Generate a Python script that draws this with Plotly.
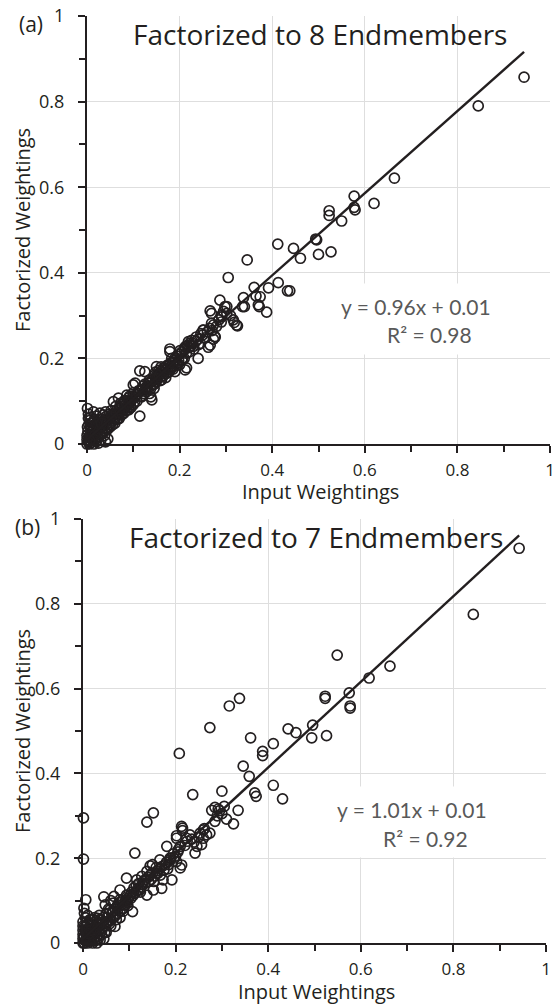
import plotly.graph_objects as go

# ---- data -------------------------------------------------------------
# (a) model factorized to 8 endmembers
a_input = [
    0.944, 0.845, 0.664, 0.577, 0.577, 0.579, 0.620, 0.523, 0.523, 0.550,
    0.496, 0.494, 0.446, 0.461, 0.500, 0.527, 0.438, 0.412, 0.346, 0.305,
    0.413, 0.433, 0.392, 0.361, 0.374, 0.365, 0.338, 0.340, 0.372, 0.388,
    0.287, 0.266, 0.298, 0.302, 0.295, 0.290, 0.310, 0.316, 0.325, 0.269,
    0.251, 0.276, 0.219, 0.228, 0.179,
    0.114, 0.114, 0.125, 0.104, 0.100, 0.140, 0.138, 0.150, 0.179, 0.183,
    0.190, 0.212, 0.215, 0.205, 0.222, 0.212, 0.240, 0.251, 0.266, 0.262,
    0.273, 0.277, 0.273, 0.269, 0.291, 0.302, 0.323, 0.318, 0.336, 0.370,
    0.120, 0.125, 0.130, 0.135, 0.140, 0.145, 0.150, 0.155, 0.160, 0.165,
    0.170, 0.175, 0.180, 0.185, 0.190, 0.195, 0.200, 0.205, 0.210, 0.215,
    0.220, 0.225, 0.230, 0.235, 0.240, 0.245, 0.250, 0.255, 0.260, 0.265,
    0.270, 0.280, 0.285, 0.290,
    0.110, 0.115, 0.118, 0.122, 0.128, 0.132, 0.137, 0.142, 0.148, 0.152,
    0.158, 0.162, 0.167, 0.172, 0.178, 0.183, 0.188, 0.193, 0.198, 0.160,
    0.155, 0.148, 0.145, 0.135, 0.170, 0.200, 0.210,
    0.001, 0.014, 0.028, 0.020, 0.035, 0.057, 0.068, 0.086, 0.090, 0.080,
    0.075, 0.070, 0.065, 0.060, 0.055, 0.050, 0.045, 0.040, 0.035, 0.030,
    0.025, 0.020, 0.015, 0.010, 0.005, 0.000, 0.003, 0.008, 0.012, 0.018,
    0.022, 0.028, 0.032, 0.038, 0.042, 0.048, 0.052, 0.058, 0.062, 0.068,
    0.072, 0.078, 0.082, 0.088, 0.092, 0.095, 0.098, 0.100, 0.105, 0.108,
    0.095, 0.085, 0.075, 0.065, 0.055, 0.045, 0.038, 0.030, 0.025, 0.040,
    0.045, 0.015, 0.005, 0.000, 0.002, 0.004, 0.006, 0.010, 0.012, 0.016,
    0.008, 0.003, 0.000, 0.001, 0.010, 0.020, 0.025, 0.035, 0.050, 0.060,
    0.070, 0.080, 0.090, 0.100, 0.092, 0.082, 0.072, 0.062, 0.052, 0.042,
    0.032, 0.025, 0.018, 0.048, 0.040,
    0.032, 0.036, 0.041, 0.047, 0.053, 0.058, 0.063, 0.067, 0.071, 0.076,
    0.081, 0.085, 0.089, 0.094, 0.099, 0.103, 0.107, 0.112, 0.117, 0.121,
    0.126, 0.131, 0.136, 0.141, 0.146, 0.151, 0.156, 0.161, 0.166, 0.171,
    0.176, 0.181, 0.186, 0.191, 0.196, 0.201, 0.206, 0.211, 0.216, 0.221,
    0.226, 0.231, 0.236, 0.241, 0.246, 0.003, 0.007, 0.011, 0.015, 0.019,
    0.023, 0.027, 0.004, 0.009, 0.013, 0.017, 0.021, 0.026, 0.031, 0.006,
]
a_factorized = [
    0.857, 0.790, 0.621, 0.579, 0.553, 0.547, 0.562, 0.545, 0.534, 0.521,
    0.477, 0.479, 0.457, 0.434, 0.443, 0.449, 0.358, 0.467, 0.430, 0.389,
    0.377, 0.358, 0.365, 0.366, 0.344, 0.346, 0.342, 0.321, 0.321, 0.308,
    0.336, 0.311, 0.321, 0.305, 0.310, 0.300, 0.300, 0.290, 0.276, 0.282,
    0.266, 0.251, 0.239, 0.235, 0.222,
    0.065, 0.171, 0.169, 0.142, 0.138, 0.103, 0.110, 0.181, 0.216, 0.200,
    0.169, 0.173, 0.178, 0.196, 0.235, 0.227, 0.200, 0.266, 0.231, 0.226,
    0.245, 0.250, 0.278, 0.305, 0.297, 0.321, 0.278, 0.284, 0.321, 0.325,
    0.128, 0.140, 0.135, 0.150, 0.145, 0.160, 0.155, 0.165, 0.170, 0.160,
    0.175, 0.185, 0.180, 0.190, 0.195, 0.205, 0.210, 0.215, 0.220, 0.212,
    0.225, 0.230, 0.228, 0.240, 0.245, 0.235, 0.255, 0.248, 0.262, 0.270,
    0.265, 0.275, 0.290, 0.285,
    0.118, 0.125, 0.110, 0.118, 0.122, 0.142, 0.128, 0.138, 0.145, 0.150,
    0.148, 0.158, 0.172, 0.165, 0.170, 0.178, 0.182, 0.188, 0.195, 0.180,
    0.172, 0.168, 0.130, 0.118, 0.155, 0.185, 0.200,
    0.083, 0.075, 0.072, 0.065, 0.068, 0.099, 0.107, 0.114, 0.108, 0.100,
    0.092, 0.085, 0.080, 0.070, 0.065, 0.060, 0.055, 0.050, 0.045, 0.040,
    0.035, 0.030, 0.025, 0.020, 0.015, 0.010, 0.005, 0.003, 0.008, 0.012,
    0.018, 0.022, 0.028, 0.030, 0.038, 0.045, 0.050, 0.055, 0.062, 0.068,
    0.075, 0.080, 0.085, 0.090, 0.095, 0.100, 0.105, 0.092, 0.110, 0.100,
    0.085, 0.078, 0.068, 0.058, 0.045, 0.035, 0.020, 0.010, 0.002, 0.005,
    0.012, 0.000, 0.000, 0.000, 0.030, 0.045, 0.055, 0.040, 0.050, 0.058,
    0.035, 0.060, 0.020, 0.040, 0.012, 0.005, 0.015, 0.025, 0.040, 0.048,
    0.060, 0.072, 0.080, 0.120, 0.112, 0.102, 0.095, 0.088, 0.078, 0.065,
    0.058, 0.050, 0.045, 0.070, 0.075,
    0.050, 0.042, 0.058, 0.040, 0.068, 0.062, 0.072, 0.058, 0.080, 0.070,
    0.090, 0.095, 0.098, 0.088, 0.112, 0.098, 0.115, 0.125, 0.112, 0.135,
    0.130, 0.128, 0.145, 0.150, 0.140, 0.162, 0.160, 0.150, 0.178, 0.182,
    0.168, 0.190, 0.175, 0.202, 0.185, 0.218, 0.200, 0.222, 0.230, 0.215,
    0.242, 0.222, 0.250, 0.232, 0.258, 0.070, 0.062, 0.050, 0.038, 0.042,
    0.055, 0.035, 0.018, 0.028, 0.040, 0.020, 0.048, 0.030, 0.048, 0.008,
]

# (b) model factorized to 7 endmembers
b_input = [
    0.942, 0.843, 0.549, 0.663, 0.618, 0.575, 0.523, 0.523, 0.577, 0.577,
    0.496, 0.494, 0.526, 0.338, 0.316, 0.274, 0.208, 0.443, 0.460, 0.411,
    0.362, 0.388, 0.388, 0.346, 0.359, 0.411, 0.431, 0.371, 0.374, 0.300,
    0.237, 0.335, 0.292, 0.278, 0.285, 0.310, 0.325, 0.305, 0.152, 0.138,
    0.215, 0.215, 0.202, 0.260, 0.274, 0.253, 0.231, 0.001, 0.001, 0.006,
    0.002, 0.112, 0.290, 0.295, 0.285, 0.300, 0.267, 0.260, 0.256, 0.246,
    0.242, 0.213, 0.224, 0.202, 0.210, 0.206, 0.213, 0.210, 0.202, 0.181,
    0.188, 0.166, 0.150, 0.158, 0.145, 0.192, 0.173, 0.170, 0.138, 0.127,
    0.116, 0.094, 0.109, 0.123, 0.138, 0.152, 0.107, 0.045, 0.080, 0.080,
    0.073, 0.058, 0.065, 0.094, 0.058, 0.069, 0.037, 0.030, 0.037, 0.030,
    0.037,
    0.100, 0.105, 0.110, 0.115, 0.120, 0.125, 0.130, 0.135, 0.140, 0.145,
    0.150, 0.155, 0.160, 0.165, 0.170, 0.175, 0.180, 0.185, 0.190, 0.195,
    0.200, 0.205, 0.220, 0.225, 0.235, 0.240, 0.250, 0.262,
    0.000, 0.005, 0.010, 0.015, 0.020, 0.025, 0.030, 0.035, 0.040, 0.045,
    0.050, 0.055, 0.060, 0.065, 0.070, 0.075, 0.080, 0.085, 0.090, 0.095,
    0.000, 0.000, 0.000, 0.000, 0.000, 0.005, 0.010, 0.015, 0.020, 0.025,
    0.030, 0.035, 0.040, 0.045, 0.050, 0.055, 0.060, 0.065, 0.070, 0.075,
    0.080, 0.085, 0.010, 0.020, 0.030, 0.005, 0.012, 0.018, 0.025, 0.008,
    0.003, 0.010, 0.045, 0.050, 0.042, 0.032, 0.048, 0.060, 0.067, 0.072,
    0.088, 0.092, 0.098, 0.078,
    0.002, 0.004, 0.006, 0.008, 0.011, 0.013, 0.016, 0.019, 0.022, 0.024,
    0.027, 0.029, 0.033, 0.036, 0.039, 0.041, 0.044, 0.047, 0.052, 0.057,
    0.062, 0.068, 0.074, 0.082, 0.087, 0.093, 0.097, 0.103, 0.108, 0.113,
    0.118, 0.124, 0.128, 0.133, 0.142, 0.147, 0.153, 0.162, 0.167, 0.178,
    0.183, 0.187, 0.196, 0.003, 0.007, 0.012, 0.017, 0.021, 0.026, 0.034,
]
b_factorized = [
    0.931, 0.775, 0.679, 0.653, 0.625, 0.590, 0.582, 0.577, 0.559, 0.554,
    0.514, 0.484, 0.489, 0.577, 0.559, 0.508, 0.447, 0.505, 0.496, 0.470,
    0.484, 0.452, 0.442, 0.417, 0.393, 0.372, 0.340, 0.354, 0.346, 0.358,
    0.350, 0.313, 0.316, 0.313, 0.287, 0.292, 0.281, 0.322, 0.307, 0.285,
    0.271, 0.265, 0.253, 0.267, 0.259, 0.259, 0.255, 0.295, 0.198, 0.102,
    0.082, 0.212, 0.300, 0.312, 0.320, 0.305, 0.255, 0.247, 0.232, 0.228,
    0.212, 0.275, 0.247, 0.247, 0.228, 0.220, 0.184, 0.177, 0.192, 0.228,
    0.200, 0.196, 0.185, 0.178, 0.182, 0.149, 0.149, 0.129, 0.169, 0.157,
    0.149, 0.153, 0.117, 0.125, 0.113, 0.125, 0.074, 0.109, 0.125, 0.102,
    0.086, 0.078, 0.094, 0.113, 0.054, 0.039, 0.054, 0.047, 0.023, 0.000,
    0.007,
    0.110, 0.120, 0.130, 0.135, 0.140, 0.132, 0.145, 0.150, 0.155, 0.160,
    0.165, 0.158, 0.170, 0.175, 0.180, 0.172, 0.190, 0.185, 0.200, 0.210,
    0.205, 0.215, 0.230, 0.240, 0.245, 0.238, 0.250, 0.270,
    0.000, 0.005, 0.000, 0.010, 0.015, 0.020, 0.025, 0.030, 0.035, 0.040,
    0.045, 0.050, 0.055, 0.060, 0.065, 0.070, 0.075, 0.080, 0.090, 0.095,
    0.010, 0.020, 0.030, 0.040, 0.050, 0.060, 0.045, 0.055, 0.040, 0.060,
    0.035, 0.065, 0.020, 0.060, 0.070, 0.080, 0.040, 0.075, 0.080, 0.090,
    0.060, 0.100, 0.015, 0.025, 0.015, 0.030, 0.035, 0.005, 0.005, 0.022,
    0.070, 0.065, 0.010, 0.025, 0.048, 0.058, 0.090, 0.100, 0.110, 0.055,
    0.082, 0.100, 0.105, 0.095,
    0.015, 0.040, 0.025, 0.050, 0.005, 0.030, 0.045, 0.020, 0.055, 0.010,
    0.040, 0.052, 0.010, 0.045, 0.055, 0.030, 0.050, 0.025, 0.060, 0.045,
    0.070, 0.062, 0.085, 0.088, 0.075, 0.098, 0.088, 0.105, 0.112, 0.118,
    0.125, 0.120, 0.138, 0.140, 0.145, 0.150, 0.145, 0.165, 0.160, 0.185,
    0.175, 0.195, 0.200, 0.000, 0.012, 0.022, 0.030, 0.000, 0.035, 0.042,
]

assert len(a_input) == len(a_factorized)
assert len(b_input) == len(b_factorized)

panel_titles = ["Factorized to 8 Endmembers", "Factorized to 7 Endmembers"]
panel_tags = ["(a)", "(b)"]
fit_slope = [0.96, 1.01]
fit_intercept = [0.01, 0.01]
fit_r2 = [0.98, 0.92]
x_label = "Input Weightings"
y_label = "Factorized Weightings"

# ---- layout helpers ---------------------------------------------------
W, H = 560, 1005
INK = "#231f20"
GRID = "#dedede"
FONT = "Open Sans"


def px(x):
    return x / W


def py(y):
    return 1 - y / H


# pixel frame of each plot area: left, right, top, bottom
frames = [(87, 550, 16, 444), (83, 546, 519, 943)]

fig = go.Figure()

sets = [(a_input, a_factorized), (b_input, b_factorized)]
annotations = []
for i, ((xs, ys), (l, r, t, b)) in enumerate(zip(sets, frames)):
    xa = "x" if i == 0 else "x2"
    ya = "y" if i == 0 else "y2"
    fig.add_trace(go.Scatter(
        x=xs, y=ys, mode="markers", xaxis=xa, yaxis=ya,
        marker=dict(symbol="circle-open", size=10, color=INK,
                    line=dict(width=1.7, color=INK)),
        cliponaxis=False, showlegend=False, hoverinfo="x+y",
    ))
    x_end = max(xs)
    x0 = min(xs)
    fig.add_trace(go.Scatter(
        x=[x0, x_end],
        y=[fit_slope[i] * x0 + fit_intercept[i],
           fit_slope[i] * x_end + fit_intercept[i]],
        mode="lines", xaxis=xa, yaxis=ya,
        line=dict(color=INK, width=2.4), showlegend=False, hoverinfo="skip",
    ))

    axis_common = dict(
        range=[0, 1], dtick=0.2, tick0=0, showgrid=True, gridcolor=GRID,
        gridwidth=1, zeroline=False, showline=True, linecolor=INK,
        linewidth=2, ticks="outside", ticklen=7, tickwidth=2, tickcolor=INK,
        tickfont=dict(family=FONT, size=18, color=INK),
        minor=dict(dtick=0.1, ticks="outside", ticklen=6, tickwidth=2,
                   tickcolor=INK, showgrid=False),
        automargin=False, fixedrange=True,
    )
    xdom = [px(l), px(r)]
    ydom = [py(b), py(t)]
    xkey = "xaxis" if i == 0 else "xaxis2"
    ykey = "yaxis" if i == 0 else "yaxis2"
    fig.update_layout({
        xkey: dict(axis_common, domain=xdom, anchor=ya,
                   tickfont=dict(family=FONT, size=17, color=INK),
                   ticklabelstandoff=3),
        ykey: dict(axis_common, domain=ydom, anchor=xa,
                   ticklabelstandoff=10),
    })

    cx = (l + r) / 2
    # panel title
    annotations.append(dict(
        text=panel_titles[i], x=px(cx + 1), y=py(t + 18),
        xref="paper", yref="paper", showarrow=False,
        font=dict(family=FONT, size=28, color=INK),
        xanchor="center", yanchor="middle",
    ))
    # panel tag
    annotations.append(dict(
        text=panel_tags[i], x=px(l - 56), y=py(t + 8),
        xref="paper", yref="paper", showarrow=False,
        font=dict(family=FONT, size=21, color=INK),
        xanchor="center", yanchor="middle",
    ))
    # axis titles
    annotations.append(dict(
        text=x_label, x=px(cx + 2), y=py(b + 48),
        xref="paper", yref="paper", showarrow=False,
        font=dict(family=FONT, size=20, color=INK),
        xanchor="center", yanchor="middle",
    ))
    annotations.append(dict(
        text=y_label, x=px(22), y=py((t + b) / 2),
        xref="paper", yref="paper", showarrow=False, textangle=-90,
        font=dict(family=FONT, size=20, color=INK),
        xanchor="center", yanchor="middle",
    ))
    # regression label on a white box
    box_top = t + 269
    annotations.append(dict(
        text=" ", x=px(r - 135), y=py(box_top + 34),
        xref="paper", yref="paper", showarrow=False,
        width=175, height=68, bgcolor="white",
        xanchor="center", yanchor="middle",
    ))
    annotations.append(dict(
        text=f"y = {fit_slope[i]:.2f}x + {fit_intercept[i]:.2f}",
        x=px(r - 134), y=py(box_top + 21),
        xref="paper", yref="paper", showarrow=False,
        font=dict(family="Lato", size=21, color="#595959"),
        xanchor="center", yanchor="middle",
    ))
    annotations.append(dict(
        text=f"R² = {fit_r2[i]:.2f}",
        x=px(r - 121), y=py(box_top + 50),
        xref="paper", yref="paper", showarrow=False,
        font=dict(family="Lato", size=21, color="#595959"),
        xanchor="center", yanchor="middle",
    ))

fig.update_layout(
    width=W, height=H,
    margin=dict(l=0, r=0, t=0, b=0, pad=0, autoexpand=False),
    paper_bgcolor="white", plot_bgcolor="white",
    annotations=annotations,
    showlegend=False,
)

fig.write_html("out.html", config={"displayModeBar": False})
